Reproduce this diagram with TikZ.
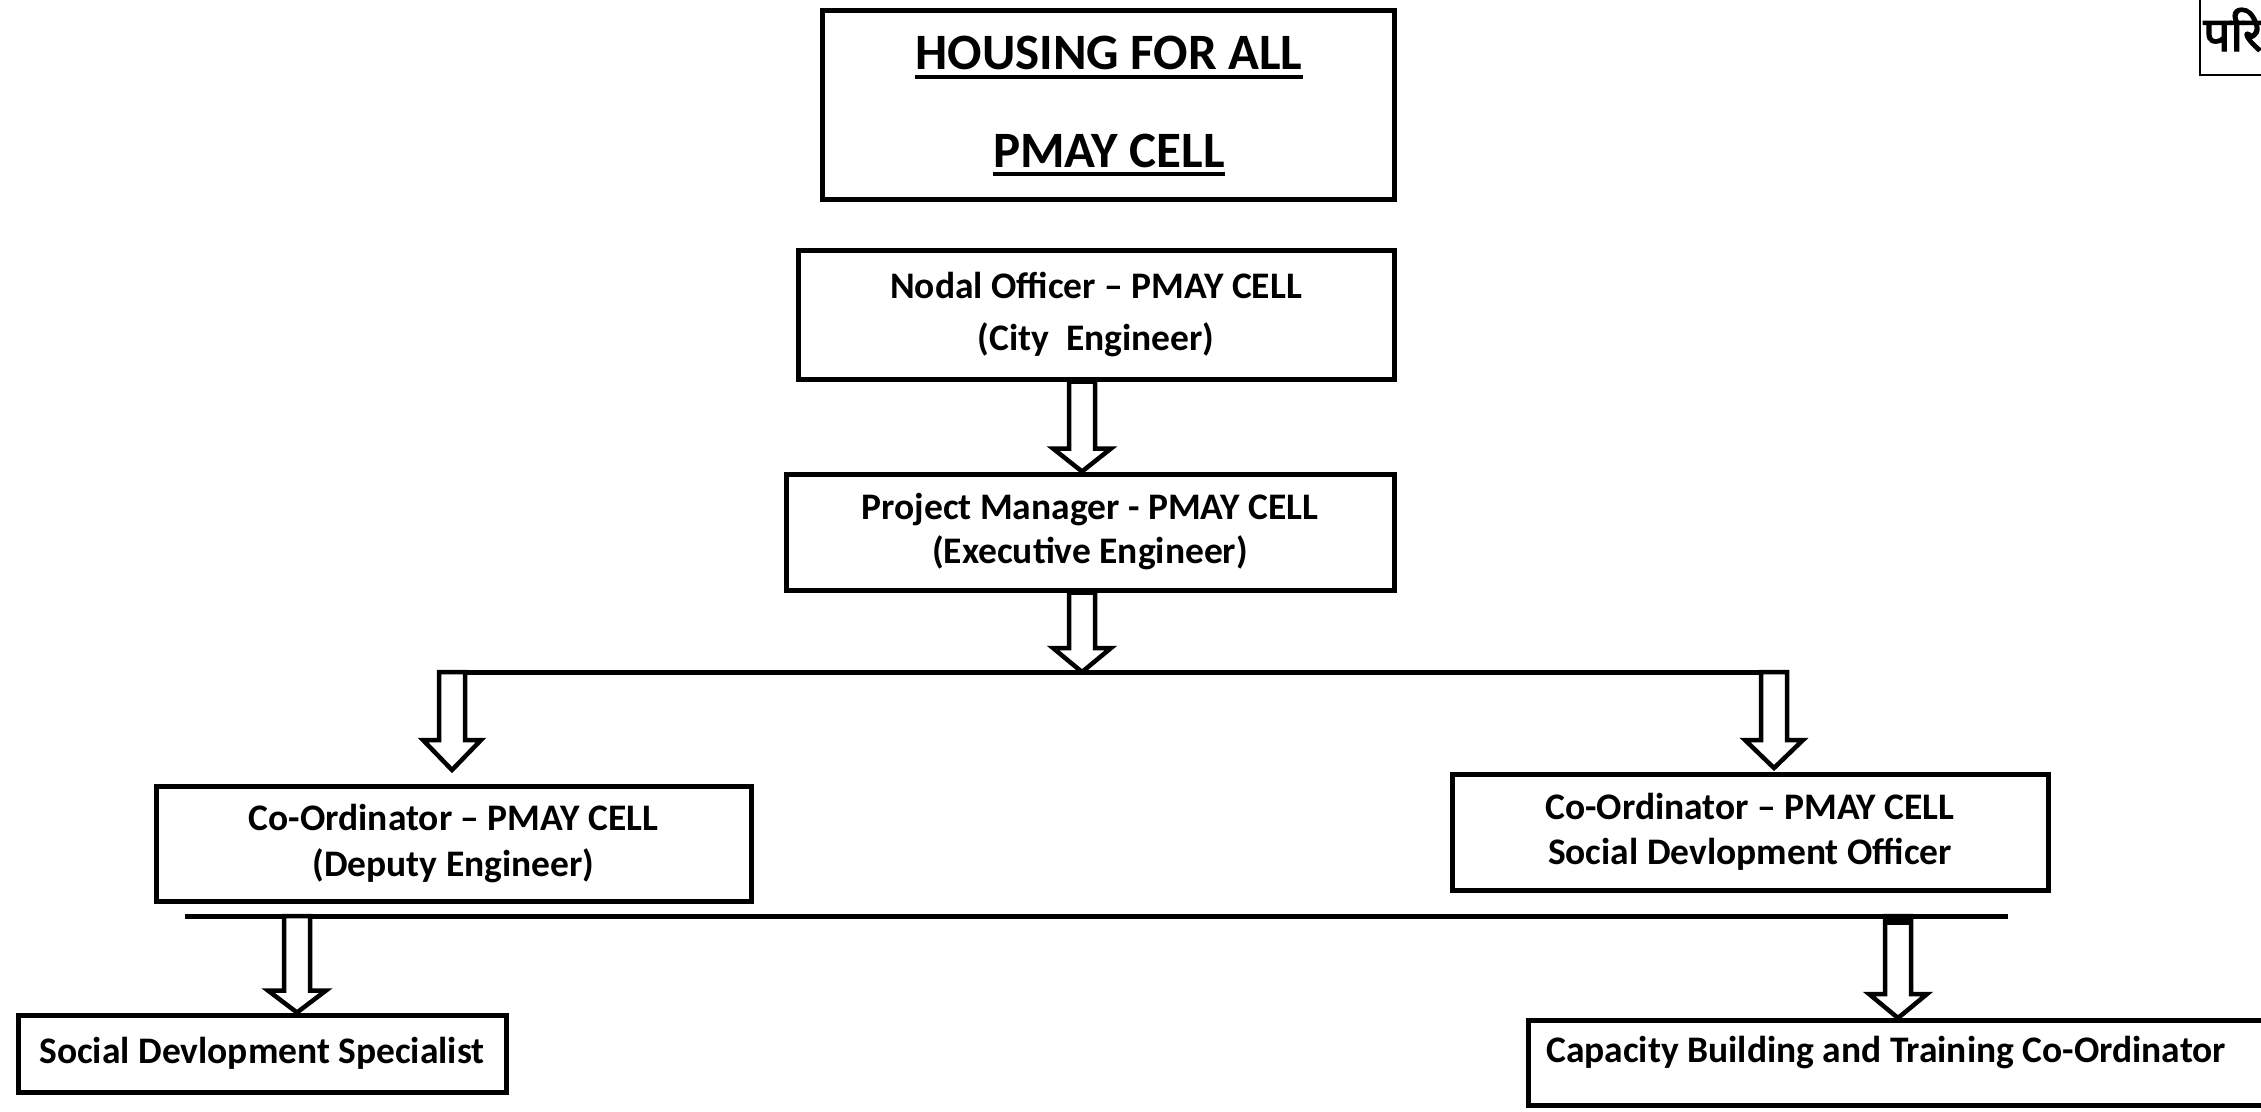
\documentclass[tikz,border=0pt]{standalone}
\usepackage{fontspec}
\setmainfont{Carlito}
\newfontfamily\devfont[Script=Devanagari, AutoFakeBold=2.5]{Noto Sans}
\usetikzlibrary{calc}
\tikzset{
  box/.style={draw, line width=5pt, rectangle, inner sep=0pt, align=center,
    font=\bfseries\fontsize{37.5}{46}\selectfont},
  conn/.style={line width=5pt},
  barrow/.style={draw, fill=white, line width=4.5pt, line join=miter},
  ttl/.style={inner sep=0pt, anchor=base, font=\bfseries\fontsize{51}{60}\selectfont},
  uline/.style={line width=4pt}
}
% block arrow: #1 top-centre, #2 tip, #3 head length
\newcommand\blockarrow[3]{%
  \path[barrow] let \p1=(#1), \p2=(#2) in
   (\x1-13pt,\y1) -- (\x1+13pt,\y1) -- (\x1+13pt,\y2+#3pt) -- (\x1+29pt,\y2+#3pt)
   -- (\x1,\y2) -- (\x1-29pt,\y2+#3pt) -- (\x1-13pt,\y2+#3pt) -- cycle;}
\begin{document}
\begin{tikzpicture}[x=1pt,y=-1pt]
\useasboundingbox (0,0) rectangle (2261,1111);
\clip (0,0) rectangle (2261,1111);
\fill[white] (0,0) rectangle (2261,1111);

% title box
\node[box, minimum width=572pt, minimum height=189pt] (top) at (1108,104.5) {};
\node[ttl] (h1) at (1109,69) {HOUSING FOR ALL};
\node[ttl] (h2) at (1109,167) {PMAY CELL};
\draw[uline] ([yshift=-8pt]h1.base west) -- ([yshift=-8pt]h1.base east);
\draw[uline] ([yshift=-7pt]h2.base west) -- ([yshift=-7pt]h2.base east);

% boxes
\node[box, minimum width=596pt, minimum height=129pt,
      font=\bfseries\fontsize{37.5}{52}\selectfont] (nodal) at (1096,314.5)
      {Nodal Officer -- PMAY CELL\\(City\ \ Engineer)};
\node[box, minimum width=608pt, minimum height=116pt,
      font=\bfseries\fontsize{37.5}{44}\selectfont] (pm) at (1090,532)
      {Project Manager - PMAY CELL\\(Executive Engineer)};
\node[box, minimum width=595pt, minimum height=115pt] (col) at (453.5,843.5)
      {Co-Ordinator -- PMAY CELL\\(Deputy Engineer)};
\node[box, minimum width=596pt, minimum height=116pt,
      font=\bfseries\fontsize{37.5}{45}\selectfont] (cor) at (1750,832)
      {Co-Ordinator -- PMAY CELL\\Social Devlopment Officer};
\node[box, minimum width=488pt, minimum height=77pt] (sds) at (262,1053.5)
      {Social Devlopment Specialist};
\node[box, minimum width=780pt, minimum height=85pt, anchor=north west] (cbt) at (1526,1018) {};
\node[inner sep=0pt, anchor=west, font=\bfseries\fontsize{37.5}{40}\selectfont] (cbtt)
      at (1546,1053) {Capacity Building and Training Co-Ordinator};

% devanagari corner box
\draw[line width=2.5pt] (2200,-10) -- (2200,75) -- (2300,75);
\node[inner sep=0pt, anchor=base west, font=\devfont\bfseries\fontsize{48}{54}\selectfont] (dev)
      at (2203,51) {परि};

% connectors
\coordinate (j1L) at (452,672);
\coordinate (j1R) at (1774,672);
\coordinate (j1M) at (1082,672);
\coordinate (tL) at (452,770);
\coordinate (tR) at (1774,768);
\coordinate (j2L) at (297,916);
\coordinate (j2R) at (1898,916);

\blockarrow{1082,0 |- nodal.south}{1082,0 |- pm.north}{23}
\blockarrow{1082,0 |- pm.south}{j1M}{24}
\draw[conn] ([xshift=-15pt]j1L) -- ([xshift=14pt]j1R);
\blockarrow{j1L}{tL}{30}
\blockarrow{j1R}{tR}{28}

\draw[conn] (185,916) coordinate (l2a) -- (2008,916) coordinate (l2b);
\blockarrow{j2L}{297,0 |- sds.north}{22}
\blockarrow{j2R}{1898,0 |- cbt.north}{24}
\fill ([xshift=-14pt]j2R) rectangle ([xshift=14pt,yshift=-9pt]j2R);
\end{tikzpicture}
\end{document}
